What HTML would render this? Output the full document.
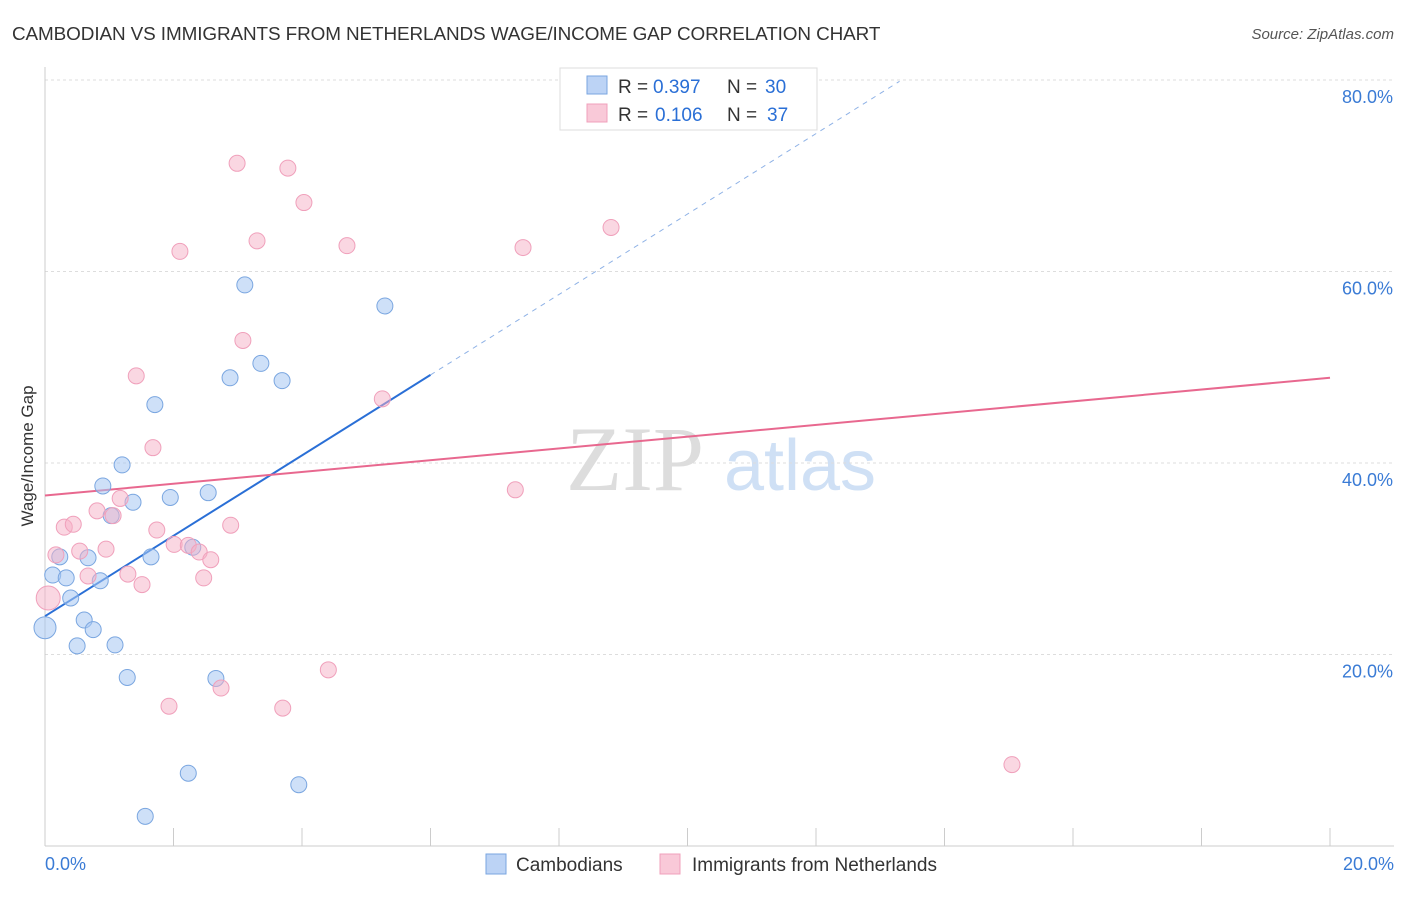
<!DOCTYPE html>
<html><head><meta charset="utf-8"><style>
body{margin:0;background:#fff;font-family:"Liberation Sans",sans-serif;}
svg text{font-family:"Liberation Sans",sans-serif;}
</style></head><body>
<svg id="c" width="1406" height="892">
<text x="12" y="40" font-size="18.9" fill="#333" letter-spacing="-0.1">CAMBODIAN VS IMMIGRANTS FROM NETHERLANDS WAGE/INCOME GAP CORRELATION CHART</text>
<text x="1394" y="39" font-size="15" fill="#555" text-anchor="end" font-style="italic">Source: ZipAtlas.com</text>
<text transform="translate(33,456) rotate(-90)" font-size="17" fill="#333" text-anchor="middle">Wage/Income Gap</text>
<g><text x="635" y="490" font-size="92" fill="#ddd" text-anchor="middle" font-family="Liberation Serif" style="font-family:'Liberation Serif',serif">ZIP</text><text x="800" y="490" font-size="72" fill="#cfe0f5" text-anchor="middle">atlas</text></g>
<g id="grid"></g><g id="axes"></g><g id="lines"></g><g id="pts"></g>
<g>
<rect x="560" y="68" width="257" height="62" fill="#fff" stroke="#ddd"/>
<rect x="587" y="76" width="20" height="18" fill="#bcd3f5" stroke="#7aa6e0"/>
<text x="618" y="93" font-size="19" fill="#333">R =</text><text x="653" y="93" font-size="19" fill="#2a6fd6">0.397</text>
<text x="727" y="93" font-size="19" fill="#333">N =</text><text x="765" y="93" font-size="19" fill="#2a6fd6">30</text>
<rect x="587" y="104" width="20" height="18" fill="#f9c9d8" stroke="#f0a0bb"/>
<text x="618" y="121" font-size="19" fill="#333">R =</text><text x="655" y="121" font-size="19" fill="#2a6fd6">0.106</text>
<text x="727" y="121" font-size="19" fill="#333">N =</text><text x="767" y="121" font-size="19" fill="#2a6fd6">37</text>
</g>
<g>
<rect x="486" y="854" width="20" height="20" fill="#bcd3f5" stroke="#7aa6e0"/>
<text x="516" y="871" font-size="19" fill="#333">Cambodians</text>
<rect x="660" y="854" width="20" height="20" fill="#f9c9d8" stroke="#f0a0bb"/>
<text x="692" y="871" font-size="19" fill="#333">Immigrants from Netherlands</text>
</g>
</svg>
<script>
const xTicks=[0,2,4,6,8,10,12,14,16,18,20];
const yTicks=[20,40,60,80];
const blueX=[0,0.12,0.23,0.33,0.40,0.50,0.61,0.67,0.75,0.86,0.90,1.03,1.09,1.20,1.28,1.37,1.56,1.65,1.71,1.95,2.23,2.30,2.54,2.66,2.88,3.11,3.36,3.69,3.95,5.29];
const blueY=[22.8,28.3,30.2,28.0,25.9,20.9,23.6,30.1,22.6,27.7,37.6,34.5,21.0,39.8,17.6,35.9,3.1,30.2,46.1,36.4,7.6,31.2,36.9,17.5,48.9,58.6,50.4,48.6,6.4,56.4];
const pinkX=[0.05,0.17,0.30,0.44,0.54,0.67,0.81,0.95,1.06,1.17,1.29,1.42,1.51,1.68,1.74,1.93,2.01,2.10,2.23,2.40,2.47,2.58,2.74,2.89,2.99,3.08,3.30,3.70,3.78,4.03,4.41,4.70,5.25,7.32,7.44,8.81,15.05];
const pinkY=[25.9,30.4,33.3,33.6,30.8,28.2,35.0,31.0,34.5,36.3,28.4,49.1,27.3,41.6,33.0,14.6,31.5,62.1,31.4,30.7,28.0,29.9,16.5,33.5,71.3,52.8,63.2,14.4,70.8,67.2,18.4,62.7,46.7,37.2,62.5,64.6,8.5];
const blueFit=[24.0,4.2];
const pinkFit=[36.6,0.615];
const X=v=>45+v/20*1285, Y=v=>846-v/20*191.5;
const NS="http://www.w3.org/2000/svg";
function mk(p,t,a){const e=document.createElementNS(NS,t);for(const k in a)e.setAttribute(k,a[k]);document.getElementById(p).appendChild(e);return e;}
yTicks.forEach(t=>{
const g=mk('grid','line',{x1:45,x2:1394,y1:Y(t),y2:Y(t),stroke:'#ddd','stroke-dasharray':'3,3'});


const l=mk('grid','text',{x:1393,y:Y(t)+23,'font-size':18,fill:'#3a7bd5','text-anchor':'end'});l.textContent=t.toFixed(1)+'%';


});
const ax=mk('axes','line',{x1:45,x2:45,y1:67,y2:846,stroke:'#ccc'});


const bx=mk('axes','line',{x1:45,x2:1394,y1:846,y2:846,stroke:'#ccc'});


xTicks.forEach(t=>{const k=mk('axes','line',{x1:X(t),x2:X(t),y1:828,y2:846,stroke:'#ccc'});

});
[[0,'start',45],[20,'end',1394]].forEach(([t,a,x])=>{const l=mk('axes','text',{x:x,y:870,'font-size':18,fill:'#3a7bd5','text-anchor':a});l.textContent=t.toFixed(1)+'%';

});
const b1=mk('lines','line',{x1:X(0),y1:Y(blueFit[0]),x2:X(6),y2:Y(blueFit[0]+6*blueFit[1]),stroke:'#2a6fd6','stroke-width':2});


const b2=mk('lines','line',{x1:X(6),y1:Y(blueFit[0]+6*blueFit[1]),x2:X(13.3),y2:Y(blueFit[0]+13.3*blueFit[1]),stroke:'#8fb2e6','stroke-width':1,'stroke-dasharray':'5,5'});


const p1=mk('lines','line',{x1:X(0),y1:Y(pinkFit[0]),x2:X(20),y2:Y(pinkFit[0]+20*pinkFit[1]),stroke:'#e8688f','stroke-width':2});


blueX.forEach((x,i)=>{const c=mk('pts','circle',{cx:X(x),cy:Y(blueY[i]),r:i==0?11:8,fill:'rgba(165,198,242,0.55)',stroke:'#7aa6e0','stroke-width':1});

});
pinkX.forEach((x,i)=>{const c=mk('pts','circle',{cx:X(x),cy:Y(pinkY[i]),r:i==0?12:8,fill:'rgba(245,175,198,0.5)',stroke:'#f0a0bb','stroke-width':1});

});
</script>
</body></html>
